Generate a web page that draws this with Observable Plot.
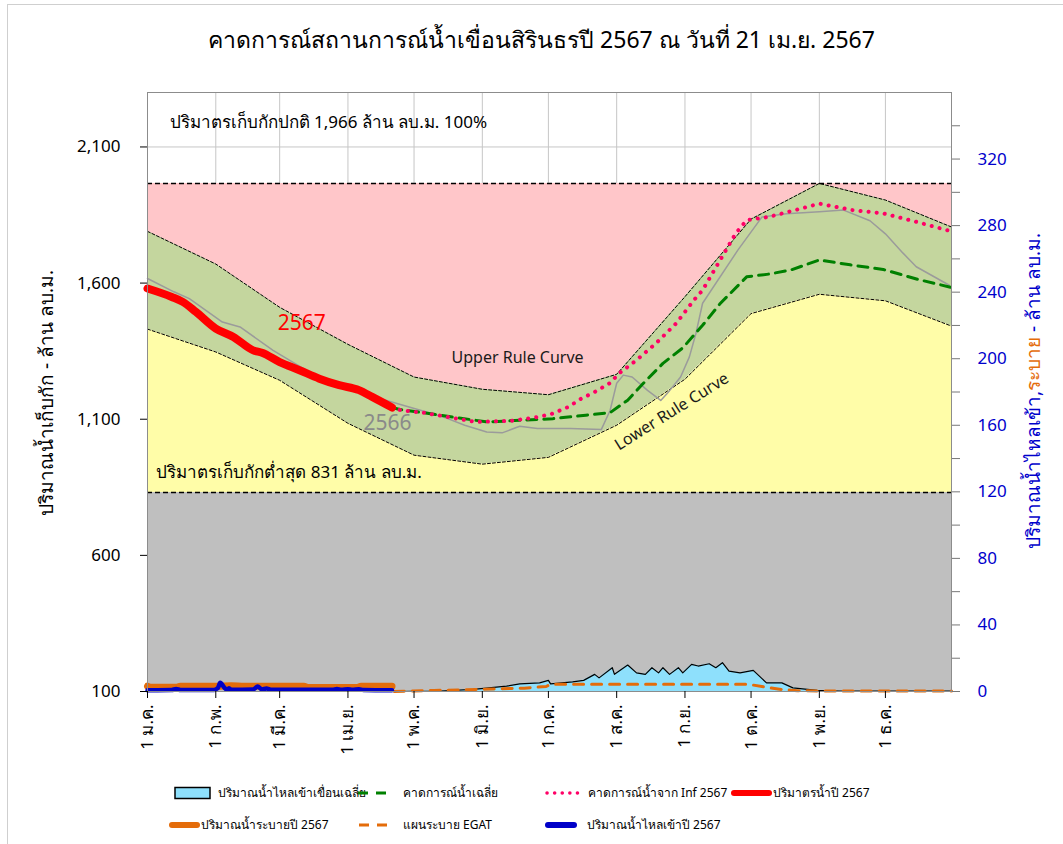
<!DOCTYPE html>
<html>
<head>
<meta charset="utf-8">
<script src="https://cdn.jsdelivr.net/npm/d3@7"></script>
<script src="https://cdn.jsdelivr.net/npm/@observablehq/plot@0.6"></script>
<style>
  html, body { margin: 0; padding: 0; background: #fff; }
  body { font-family: Tahoma, "Noto Sans", "DejaVu Sans", sans-serif; }
  #wrap { position: relative; width: 1063px; height: 844px; overflow: hidden; }
  #border { position: absolute; left: 7px; top: 4px; width: 1070px; height: 860px; border: 1px solid #cfcfcf; }
  #title { position: relative; height: 60px; width: 1083px; text-align: center; font-size: 23px; line-height: 24px; padding-top: 0; box-sizing: border-box; }
  #title span { position: absolute; left: 0; right: 0; top: 27px; }
  #chart { position: relative; height: 720px; }
  #chart svg { display: block; }
  .ytitle { position: absolute; white-space: nowrap; font-size: 19px; transform-origin: center center; }
  #legend { position: absolute; left: 0; top: 770px; }
</style>
</head>
<body>
<div id="wrap">
  <div id="border"></div>
  <div id="title"><span>คาดการณ์สถานการณ์น้ำเขื่อนสิรินธรปี 2567 ณ วันที่ 21 เม.ย. 2567</span></div>
  <div id="chart"></div>
  <div class="ytitle" id="ltitle">ปริมาณน้ำเก็บกัก - ล้าน ลบ.ม.</div>
  <div class="ytitle" id="rtitle"><span style="color:#0000CC">ปริมาณน้ำไหลเข้า,</span><span style="color:#E46C0A">ระบาย</span><span style="color:#0000CC"> - ล้าน ลบ.ม.</span></div>
  <div id="legend"></div>
</div>
<script>
// ---------------- DATA ----------------
const monthStarts = ["2024-01-01","2024-02-01","2024-03-01","2024-04-01","2024-05-01","2024-06-01",
  "2024-07-01","2024-08-01","2024-09-01","2024-10-01","2024-11-01","2024-12-01"];
const monthLabels = ["1 ม.ค.","1 ก.พ.","1 มี.ค.","1 เม.ย.","1 พ.ค.","1 มิ.ย.","1 ก.ค.","1 ส.ค.","1 ก.ย.","1 ต.ค.","1 พ.ย.","1 ธ.ค."];
const leftTicks = [100, 600, 1100, 1600, 2100];
const rightTicks = [0,20,40,60,80,100,120,140,160,180,200,220,240,260,280,300,320,340];

const normalLevel = 1966;
const minLevel = 831;

const ruleDates = ["2024-01-01","2024-02-01","2024-03-01","2024-04-01","2024-05-01","2024-06-01",
  "2024-07-01","2024-08-01","2024-09-01","2024-10-01","2024-11-01","2024-12-01","2024-12-31"];
const upperRule = [1790,1670,1511,1375,1255,1210,1190,1265,1550,1835,1966,1905,1806];
const lowerRule = [1431,1347,1243,1085,968,935,960,1078,1247,1488,1559,1535,1442];

const storage2567Dates = ["2024-01-01","2024-01-12","2024-01-17","2024-01-23","2024-02-01","2024-02-09","2024-02-18",
  "2024-02-22","2024-03-01","2024-03-10","2024-03-19","2024-03-28","2024-04-06","2024-04-12","2024-04-21"];
const storage2567 = [1580,1549,1531,1494,1433,1402,1353,1344,1310,1280,1249,1225,1207,1182,1143];

const storage2566Dates = ["2024-01-01","2024-01-13","2024-01-20","2024-02-04","2024-02-12","2024-02-27","2024-03-13",
  "2024-03-28","2024-04-13","2024-04-26","2024-05-09","2024-05-16","2024-05-24","2024-06-03","2024-06-10","2024-06-18",
  "2024-06-26","2024-07-11","2024-07-25","2024-07-29","2024-08-01","2024-08-04","2024-08-08","2024-08-15","2024-08-21",
  "2024-08-24","2024-08-30","2024-09-03","2024-09-06","2024-09-09","2024-09-25","2024-10-06","2024-10-17","2024-11-01",
  "2024-11-12","2024-11-24","2024-12-01","2024-12-09","2024-12-15","2024-12-30"];
const storage2566 = [1617,1568,1543,1457,1439,1353,1280,1219,1182,1151,1121,1103,1078,1053,1050,1074,
  1066,1066,1062,1132,1232,1262,1255,1206,1169,1195,1255,1329,1416,1526,1721,1843,1855,1862,
  1868,1829,1781,1710,1660,1592];

const infDates = ["2024-04-21","2024-04-25","2024-05-06","2024-05-29","2024-06-14","2024-06-24","2024-07-02",
  "2024-07-10","2024-07-16","2024-07-22","2024-07-29","2024-08-02","2024-08-10","2024-08-19","2024-08-28","2024-09-05",
  "2024-09-09","2024-09-24","2024-09-29","2024-10-09","2024-10-21","2024-11-01","2024-11-16","2024-11-30","2024-12-15","2024-12-31"];
const infForecast = [1143,1133,1123,1090,1094,1105,1118,1145,1176,1200,1233,1268,1317,1380,1452,1537,
  1574,1782,1831,1843,1868,1892,1868,1856,1825,1790];

const avgDates = ["2024-04-21","2024-04-25","2024-05-06","2024-06-03","2024-06-18","2024-07-03","2024-07-18",
  "2024-07-29","2024-08-06","2024-08-13","2024-08-22","2024-08-31","2024-09-09","2024-09-17","2024-09-29","2024-10-09",
  "2024-10-19","2024-11-01","2024-11-15","2024-11-30","2024-12-16","2024-12-31"];
const avgForecast = [1143,1135,1123,1090,1096,1102,1115,1124,1170,1231,1305,1362,1445,1525,1623,1633,
  1648,1685,1667,1650,1613,1584];

// right axis (ล้าน ลบ.ม.)
const avgInflowDates = ["2024-04-22","2024-04-30","2024-05-13","2024-05-28","2024-06-12","2024-06-18","2024-06-27",
  "2024-07-01","2024-07-02","2024-07-12","2024-07-17","2024-07-22","2024-07-24","2024-07-30","2024-07-31","2024-08-06",
  "2024-08-10","2024-08-14","2024-08-17","2024-08-20","2024-08-22","2024-08-25","2024-08-29","2024-08-31","2024-09-04",
  "2024-09-07","2024-09-12","2024-09-15","2024-09-18","2024-09-21","2024-09-26","2024-10-02","2024-10-08","2024-10-15",
  "2024-10-20","2024-10-31","2024-11-10","2024-12-31"];
const avgInflow = [0,0.1,0.3,1.3,3.2,4.6,5.2,6.7,4.6,5.8,6.7,10.3,8.2,14.3,10.3,15.9,
  11.2,10.3,14.3,11.2,14.3,10.3,14.3,11.2,16.3,15.3,16.7,14.3,17.3,12.3,11.2,12.7,5.2,5.2,
  2.2,0.7,0.2,0.2];

const egatDates = ["2024-04-22","2024-05-01","2024-05-10","2024-06-01","2024-06-20","2024-06-30","2024-07-02",
  "2024-09-30","2024-10-08","2024-10-15","2024-10-22","2024-11-01","2024-12-31"];
const egatPlan = [0,0.3,0.6,1.3,2.0,3.0,4.3,4.3,2.5,1.2,0.5,0.3,0.3];

const release2567Dates = ["2024-01-01","2024-01-03","2024-01-14","2024-01-16","2024-02-02","2024-02-08","2024-02-14",
  "2024-03-12","2024-03-14","2024-04-05","2024-04-07","2024-04-21"];
const release2567 = [3.2,2.5,2.5,3.2,3.2,3.5,3.2,3.2,2.4,2.4,3.2,3.2];

const inflow2567Dates = ["2024-01-01","2024-01-12","2024-01-14","2024-01-16","2024-01-31","2024-02-02","2024-02-03",
  "2024-02-05","2024-02-06","2024-02-07","2024-02-08","2024-02-18","2024-02-20","2024-02-22","2024-02-24","2024-02-26",
  "2024-03-25","2024-03-27","2024-03-29","2024-04-01","2024-04-03","2024-04-06","2024-04-08","2024-04-21"];
const inflow2567 = [0.8,0.9,1.5,0.9,0.9,2.2,5.2,2.2,1.0,2.0,1.0,1.2,3.0,1.2,1.8,1.0,
  1.0,1.5,1.0,1.4,1.0,1.3,0.9,0.7];

// ---------------- BUILD ----------------
const P = s => new Date(s);
const rightMax = 360, leftMin = 100, leftMax = 2300;
const toL = r => leftMin + r * (leftMax - leftMin) / rightMax;
const fromL = v => (v - leftMin) * rightMax / (leftMax - leftMin);
const rows = (ds, vs) => ds.map((d, i) => ({date: P(d), v: vs[i]}));
const rowsR = (ds, vs) => ds.map((d, i) => ({date: P(d), v: toL(vs[i])}));

const band = ruleDates.map((d, i) => ({date: P(d), up: upperRule[i], lo: lowerRule[i]}));
const monthDates = monthStarts.map(P);
const labelMap = new Map(monthDates.map((d, i) => [+d, monthLabels[i]]));

const FONT = 'Tahoma, "Noto Sans", "DejaVu Sans", sans-serif';

const chart = Plot.plot({
  width: 1063,
  height: 720,
  marginLeft: 147,
  marginRight: 112,
  marginTop: 32,
  marginBottom: 89,
  x: {type: "utc", domain: [P("2024-01-01"), P("2024-12-31")]},
  y: {domain: [leftMin, leftMax]},
  style: {fontFamily: FONT, fontSize: "17px", color: "#000", background: "transparent", overflow: "visible"},
  marks: [
    Plot.ruleX(monthDates, {stroke: "#c6c6c6", strokeWidth: 1}),
    Plot.ruleY([2100], {stroke: "#c6c6c6", strokeWidth: 1}),
    Plot.areaY(band, {x: "date", y1: "up", y2: normalLevel, fill: "#FFC6C9"}),
    Plot.areaY(band, {x: "date", y1: "lo", y2: "up", fill: "#C4D69E"}),
    Plot.areaY(band, {x: "date", y1: minLevel, y2: "lo", fill: "#FFFDA8"}),
    Plot.areaY(band, {x: "date", y1: leftMin, y2: minLevel, fill: "#BFBFBF"}),
    Plot.line(band, {x: "date", y: "up", stroke: "#000", strokeWidth: 1, strokeDasharray: "3,2"}),
    Plot.line(band, {x: "date", y: "lo", stroke: "#000", strokeWidth: 1, strokeDasharray: "3,2"}),
    Plot.ruleY([normalLevel, minLevel], {stroke: "#000", strokeWidth: 1.6, strokeDasharray: "5,3"}),
    // right-axis series
    Plot.areaY(rowsR(avgInflowDates, avgInflow), {x: "date", y1: leftMin, y2: "v", fill: "#8EE0FC"}),
    Plot.line(rowsR(avgInflowDates, avgInflow), {x: "date", y: "v", stroke: "#000", strokeWidth: 1.2}),
    Plot.line(rowsR(egatDates, egatPlan), {x: "date", y: "v", stroke: "#E46C0A", strokeWidth: 3, strokeDasharray: "10,8"}),
    Plot.line(rowsR(release2567Dates, release2567), {x: "date", y: "v", stroke: "#E46C0A", strokeWidth: 7, curve: "monotone-x"}),
    Plot.line(rowsR(inflow2567Dates, inflow2567), {x: "date", y: "v", stroke: "#0000C8", strokeWidth: 4.5, curve: "monotone-x"}),
    // storage series
    Plot.line(rows(storage2566Dates, storage2566), {x: "date", y: "v", stroke: "#9b9b9b", strokeWidth: 1.5}),
    Plot.line(rows(avgDates, avgForecast), {x: "date", y: "v", stroke: "#008000", strokeWidth: 3, strokeDasharray: "10,7"}),
    Plot.line(rows(infDates, infForecast), {x: "date", y: "v", stroke: "#FF0066", strokeWidth: 4, strokeDasharray: "0.1,8", strokeLinecap: "round"}),
    Plot.line(rows(storage2567Dates, storage2567), {x: "date", y: "v", stroke: "#FF0000", strokeWidth: 8, strokeLinecap: "round", curve: "monotone-x"}),
    Plot.frame({stroke: "#8c8c8c"}),
    // axes
    Plot.axisX(monthDates, {tickFormat: d => labelMap.get(+d), tickRotate: -90, tickSize: 7, tickPadding: 6, fontSize: 17, label: null}),
    Plot.axisY(leftTicks, {anchor: "left", tickFormat: d3.format(","), tickSize: 7, tickPadding: 20, fontSize: 17, label: null}),
    Plot.axisY(rightTicks.map(toL), {anchor: "right", tickSize: 8, tickPadding: 18, fontSize: 17, label: null,
      stroke: "#777", fill: "#0000CC",
      tickFormat: d => { const r = Math.round(fromL(d)); return r % 40 === 0 ? String(r) : ""; }}),
    // annotations
    Plot.text(["ปริมาตรเก็บกักปกติ 1,966 ล้าน ลบ.ม. 100%"], {x: P("2024-01-11"), y: 2190, text: d => d, textAnchor: "start", fontSize: 17}),
    Plot.text(["ปริมาตรเก็บกักต่ำสุด 831 ล้าน ลบ.ม."], {x: P("2024-01-05"), y: 905, text: d => d, textAnchor: "start", fontSize: 17}),
    Plot.text(["Upper Rule Curve"], {x: P("2024-06-17"), y: 1324, text: d => d, fontSize: 16, fill: "#1a1a1a"}),
    Plot.text(["Lower Rule Curve"], {x: P("2024-08-26"), y: 1128, text: d => d, fontSize: 16, fill: "#1a1a1a", rotate: -32}),
    Plot.text(["2567"], {x: P("2024-03-11"), y: 1453, text: d => d, fontSize: 21, fill: "#FF0000"}),
    Plot.text(["2566"], {x: P("2024-04-19"), y: 1085, text: d => d, fontSize: 21, fill: "#8a8a8a"})
  ]
});
document.getElementById("chart").appendChild(chart);

// axis titles
function placeTitle(id, cx, cy) {
  const el = document.getElementById(id);
  const w = el.offsetWidth, h = el.offsetHeight;
  el.style.left = (cx - w / 2) + "px";
  el.style.top = (cy - h / 2) + "px";
  el.style.transform = "rotate(-90deg)";
}
placeTitle("ltitle", 46, 393);
placeTitle("rtitle", 1033, 391);

// legend
const lg = d3.select("#legend").append("svg").attr("width", 1063).attr("height", 74)
  .style("font-family", FONT).style("font-size", "12px");
const r1 = 23, r2 = 55;
lg.append("rect").attr("x", 175).attr("y", r1 - 5.5).attr("width", 35).attr("height", 11)
  .attr("fill", "#8EE0FC").attr("stroke", "#000").attr("stroke-width", 1.5);
lg.append("text").attr("x", 218).attr("y", r1).attr("dy", "0.35em").text("ปริมาณน้ำไหลเข้าเขื่อนเฉลี่ย");
lg.append("line").attr("x1", 358).attr("x2", 390).attr("y1", r1).attr("y2", r1)
  .attr("stroke", "#008000").attr("stroke-width", 3).attr("stroke-dasharray", "10,8");
lg.append("text").attr("x", 403).attr("y", r1).attr("dy", "0.35em").text("คาดการณ์น้ำเฉลี่ย");
lg.append("line").attr("x1", 547).attr("x2", 578).attr("y1", r1).attr("y2", r1)
  .attr("stroke", "#FF0066").attr("stroke-width", 3.5).attr("stroke-dasharray", "0.1,7.5").attr("stroke-linecap", "round");
lg.append("text").attr("x", 588).attr("y", r1).attr("dy", "0.35em").text("คาดการณ์น้ำจาก Inf 2567");
lg.append("line").attr("x1", 734).attr("x2", 769).attr("y1", r1).attr("y2", r1)
  .attr("stroke", "#FF0000").attr("stroke-width", 6).attr("stroke-linecap", "round");
lg.append("text").attr("x", 773).attr("y", r1).attr("dy", "0.35em").text("ปริมาตรน้ำปี 2567");
lg.append("line").attr("x1", 172).attr("x2", 197).attr("y1", r2).attr("y2", r2)
  .attr("stroke", "#E46C0A").attr("stroke-width", 6).attr("stroke-linecap", "round");
lg.append("text").attr("x", 201).attr("y", r2).attr("dy", "0.35em").text("ปริมาณน้ำระบายปี 2567");
lg.append("line").attr("x1", 359).attr("x2", 389).attr("y1", r2).attr("y2", r2)
  .attr("stroke", "#E46C0A").attr("stroke-width", 3).attr("stroke-dasharray", "10,8");
lg.append("text").attr("x", 403).attr("y", r2).attr("dy", "0.35em").text("แผนระบาย EGAT");
lg.append("line").attr("x1", 548).attr("x2", 574).attr("y1", r2).attr("y2", r2)
  .attr("stroke", "#0000C8").attr("stroke-width", 6).attr("stroke-linecap", "round");
lg.append("text").attr("x", 587).attr("y", r2).attr("dy", "0.35em").text("ปริมาณน้ำไหลเข้าปี 2567");
</script>
</body>
</html>
